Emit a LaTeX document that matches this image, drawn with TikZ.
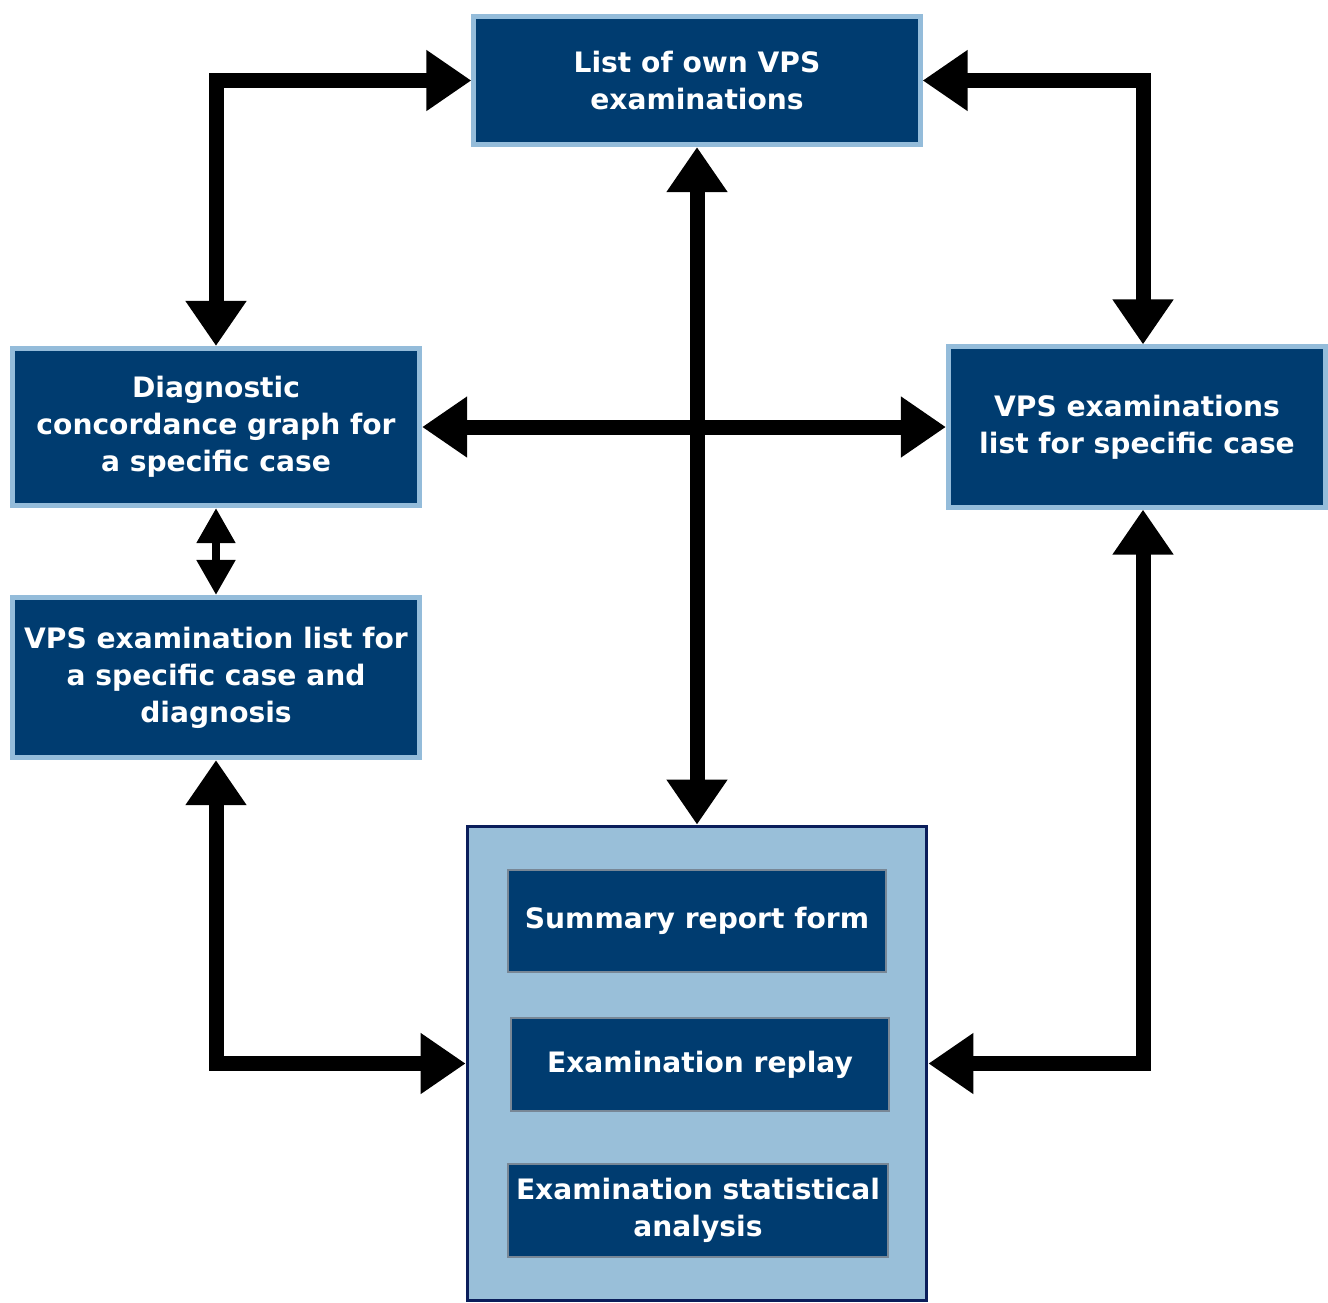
\documentclass[tikz,border=0pt]{standalone}
\usepackage{fontspec}
\setmainfont{DejaVu Sans}
\usetikzlibrary{arrows.meta}
\definecolor{navy}{RGB}{0,60,112}
\definecolor{rim}{RGB}{148,188,218}
\definecolor{panel}{RGB}{153,191,217}
\definecolor{panelrim}{RGB}{11,30,91}
\definecolor{innerrim}{RGB}{120,135,150}

\begin{document}
\begin{tikzpicture}[x=0.01cm, y=-0.01cm]
\tikzstyle{every node} = [font=\fontsize{8}{10.5}\selectfont\bfseries, text=white, align=center, inner sep=0]
\tikzstyle{box} = [draw=rim, fill=navy, line width=0.05cm]
\tikzstyle{subbox} = [draw=innerrim, fill=navy, line width=0.02cm]
\tikzstyle{panelbox} = [draw=panelrim, fill=panel, line width=0.035cm]
\tikzstyle{biarrow} = [draw, line width=0.15cm, {Triangle[length=0.45cm, width=0.58cm]}-{Triangle[length=0.45cm, width=0.58cm]}]
\tikzstyle{shortarrow} = [draw, line width=0.08cm, {Triangle[length=0.35cm, width=0.37cm]}-{Triangle[length=0.35cm, width=0.37cm]}]
\useasboundingbox (0,0) rectangle (1328,1302);
\node[box, minimum width=4.46cm, minimum height=1.28cm] (own) at (697, 80.5) {List of own VPS\\examinations};
\node[box, minimum width=4.07cm, minimum height=1.57cm] (graph) at (216, 427) {Diagnostic\\concordance graph for\\a specific case};
\node[box, minimum width=3.77cm, minimum height=1.60cm] (caselist) at (1137, 427) {VPS examinations\\list for specific case};
\node[box, minimum width=4.07cm, minimum height=1.60cm] (diaglist) at (216, 677.5) {VPS examination list for\\a specific case and\\diagnosis};
\node[panelbox, minimum width=4.59cm, minimum height=4.74cm] (review) at (697, 1063.5) {};
\node[subbox, minimum width=3.78cm, minimum height=1.02cm] (summary) at (697, 921) {Summary report form};
\node[subbox, minimum width=3.78cm, minimum height=0.93cm] (replay) at (700, 1064.5) {Examination replay};
\node[subbox, minimum width=3.80cm, minimum height=0.93cm] (stats) at (698, 1210.5) {Examination statistical\\analysis};
\draw[biarrow] (own.west) -| (graph.north);
\draw[biarrow] (own.east) -| ([xshift=0.06cm]caselist.north);
\draw[biarrow] (own.south) -- (review.north);
\draw[biarrow] (graph.east) -- (caselist.west);
\draw[shortarrow] (graph.south) -- (diaglist.north);
\draw[biarrow] (diaglist.south) |- (review.west);
\draw[biarrow] ([xshift=0.06cm]caselist.south) |- (review.east);
\end{tikzpicture}
\end{document}
